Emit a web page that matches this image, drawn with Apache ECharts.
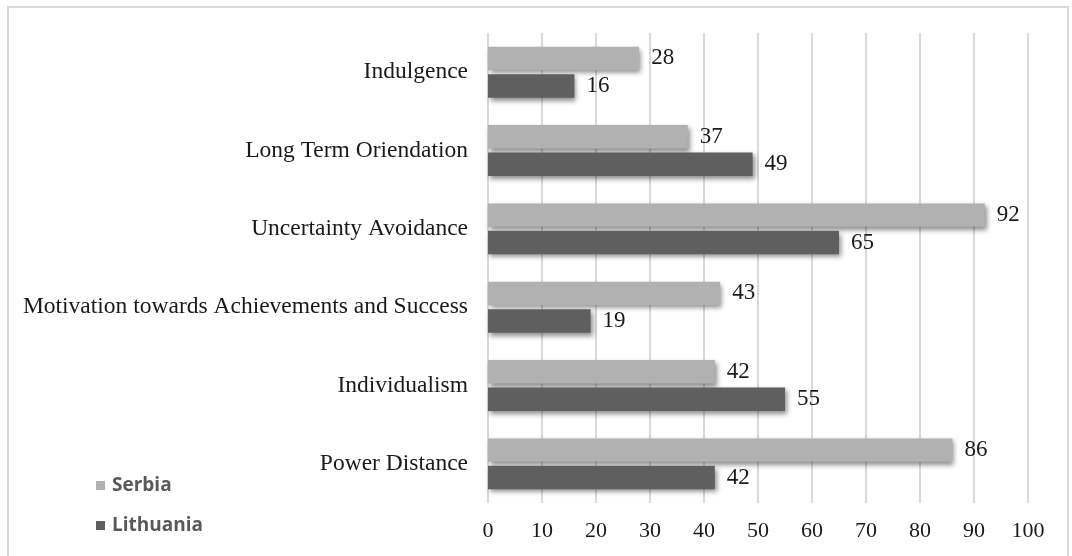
<!DOCTYPE html>
<html>
<head>
<meta charset="utf-8">
<script src="https://cdn.jsdelivr.net/npm/echarts@6/dist/echarts.min.js"></script>
<style>
  html, body { margin: 0; padding: 0; background: #fff; }
  #wrap { position: relative; width: 1072px; height: 556px; overflow: hidden; }
  #frame { position: absolute; left: 7px; top: 6px; width: 1062px; height: 580px;
           border: 2px solid #d9d9d9; box-sizing: border-box; pointer-events: none; }
  #chart { position: absolute; left: 0; top: 0; width: 1072px; height: 556px; }
</style>
</head>
<body>
<div id="wrap">
  <div id="chart"></div>
  <div id="frame"></div>
</div>
<script>
// Hofstede cultural dimensions, listed bottom to top
const dimensions = [
  'Power Distance',
  'Individualism',
  'Motivation towards Achievements and Success',
  'Uncertainty Avoidance',
  'Long Term Oriendation',
  'Indulgence'
];
const serbia = [86, 42, 43, 92, 37, 28];
const lithuania = [42, 55, 19, 65, 49, 16];
const xTicks = { min: 0, max: 100, interval: 10 };

const serif = '"Liberation Serif", "Times New Roman", serif';

const chart = echarts.init(document.getElementById('chart'), null, { renderer: 'canvas' });

function barSeries(name, values, color) {
  return {
    name: name,
    type: 'bar',
    data: values,
    barGap: '17%',
    barCategoryGap: '35%',
    itemStyle: {
      color: color,
      shadowColor: 'rgba(0,0,0,0.45)',
      shadowBlur: 5,
      shadowOffsetX: 2,
      shadowOffsetY: 3
    },
    label: {
      show: true,
      position: 'right',
      distance: 12,
      color: '#1a1a1a',
      fontFamily: serif,
      fontSize: 23
    },
    emphasis: { disabled: true }
  };
}

chart.setOption({
  animation: false,
  backgroundColor: '#fff',
  grid: { left: 488, right: 44, top: 33, bottom: 53, containLabel: false },
  legend: {
    data: ['Serbia', 'Lithuania'],
    orient: 'vertical',
    left: 91,
    top: 471,
    itemGap: 21,
    itemWidth: 9,
    itemHeight: 9,
    icon: 'rect',
    textStyle: {
      color: '#595959',
      fontFamily: '"Open Sans", "DejaVu Sans", sans-serif',
      fontWeight: 'bold',
      fontSize: 19,
      padding: [0, 0, 0, 2]
    }
  },
  xAxis: {
    type: 'value',
    min: xTicks.min,
    max: xTicks.max,
    interval: xTicks.interval,
    axisLine: { show: false },
    axisTick: { show: false },
    axisLabel: {
      color: '#1a1a1a',
      fontFamily: serif,
      fontSize: 22,
      margin: 17
    },
    splitLine: { show: true, lineStyle: { color: '#d9d9d9', width: 2 } }
  },
  yAxis: {
    type: 'category',
    data: dimensions,
    axisLine: { show: false },
    axisTick: { show: false },
    axisLabel: {
      color: '#1a1a1a',
      fontFamily: serif,
      fontSize: 23.5,
      margin: 20
    },
    splitLine: { show: false }
  },
  series: [
    barSeries('Serbia', serbia, '#b1b1b1'),
    barSeries('Lithuania', lithuania, '#5f5f5f')
  ]
});
</script>
</body>
</html>
